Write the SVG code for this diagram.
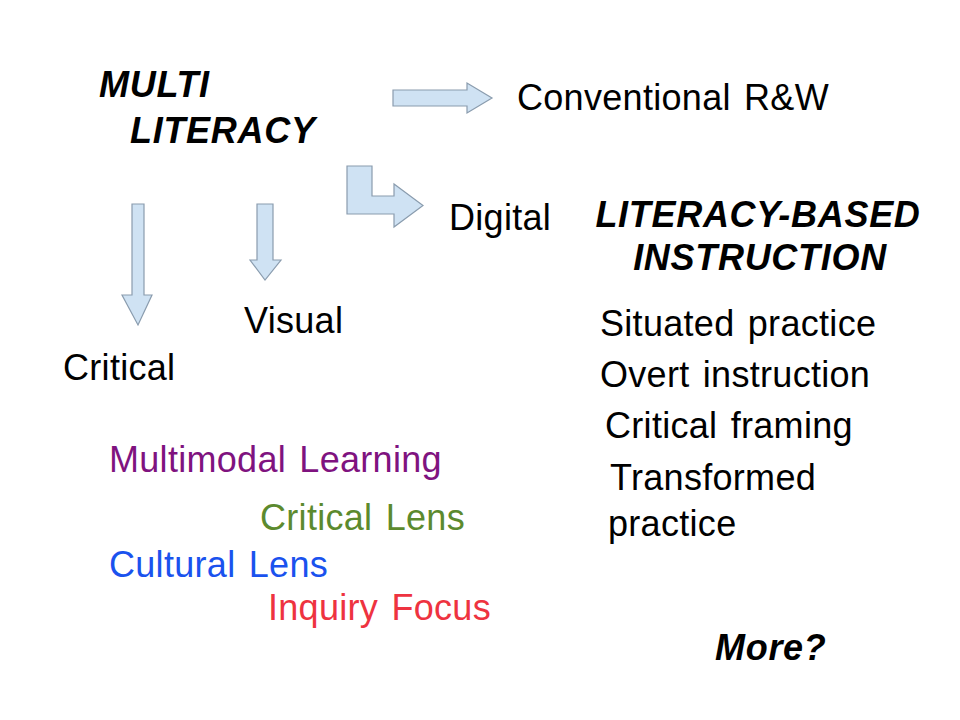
<svg xmlns="http://www.w3.org/2000/svg" width="960" height="720" viewBox="0 0 960 720">
<style>
.t{font-family:"Liberation Sans",Arial,sans-serif;font-size:36px;fill:#000;letter-spacing:0.3px;word-spacing:3px}
.bi{font-weight:bold;font-style:italic;letter-spacing:0.7px}
.arr{fill:#cfe2f3;stroke:#8a9cae;stroke-width:1.2}
</style>
<rect width="960" height="720" fill="#fff"/>
<g id="connectors">
<path class="arr" d="M393,90 H467 V83 L492,98 L467,113 V106 H393 Z"/>
<path class="arr" d="M347,166 H372 V196 H394 V184 L423,205.5 L394,227 V214 H347 Z"/>
<path class="arr" d="M132,204 H144 V295 H152 L138,325 L122,295 H132 Z"/>
<path class="arr" d="M257,204 H273 V260 H281 L265,280 L250,260 H257 Z"/>
</g>
<g id="multi-literacy"><text class="t bi" x="99" y="97">MULTI</text><text class="t bi" x="130" y="143">LITERACY</text></g>
<g id="conventional"><text class="t" x="517" y="110">Conventional R&amp;W</text></g>
<g id="digital"><text class="t" x="449" y="230">Digital</text></g>
<g id="visual"><text class="t" x="244" y="333">Visual</text></g>
<g id="critical"><text class="t" x="63" y="380">Critical</text></g>
<g id="literacy-based"><text class="t bi" x="758" y="227" text-anchor="middle">LITERACY-BASED</text><text class="t bi" x="760" y="270" text-anchor="middle">INSTRUCTION</text></g>
<g id="situated"><text class="t" x="600" y="336">Situated practice</text></g>
<g id="overt"><text class="t" x="600" y="387">Overt instruction</text></g>
<g id="critical-framing"><text class="t" x="605" y="438">Critical framing</text></g>
<g id="transformed"><text class="t" x="610" y="490">Transformed</text><text class="t" x="608" y="536">practice</text></g>
<g id="more"><text class="t bi" x="715" y="660">More?</text></g>
<g id="multimodal"><text class="t" x="109" y="472" style="fill:#7f137f">Multimodal Learning</text></g>
<g id="critical-lens"><text class="t" x="260" y="530" style="fill:#5c8a2e">Critical Lens</text></g>
<g id="cultural-lens"><text class="t" x="109" y="577" style="fill:#1a52ee">Cultural Lens</text></g>
<g id="inquiry"><text class="t" x="268" y="620" style="fill:#ee3340">Inquiry Focus</text></g>
</svg>
